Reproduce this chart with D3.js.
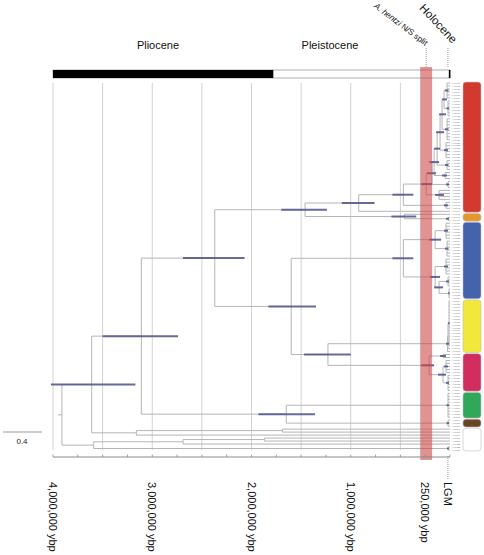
<!DOCTYPE html>
<html><head><meta charset="utf-8">
<script src="https://cdn.jsdelivr.net/npm/d3@7"></script>
<style>body{margin:0;background:#fff}svg{display:block;font-family:"Liberation Sans",Arial,sans-serif}</style>
</head><body><svg id="c" width="484" height="555"></svg>
<script>
// ---------------- data ----------------
const axisTicks = [4000000, 3000000, 2000000, 1000000, 250000];
const axisTickLabels = ["4,000,000 ybp", "3,000,000 ybp", "2,000,000 ybp", "1,000,000 ybp", "250,000 ybp"];
const gridAges = [4000000, 3500000, 3000000, 2500000, 2000000, 1500000, 1000000, 500000];
const minorTickAges = [4000000, 3750000, 3500000, 3250000, 3000000, 2750000, 2500000, 2250000, 2000000, 1750000, 1500000, 1250000, 1000000, 750000, 500000, 250000, 0];
const lgmAge = 21000;
const lgmLabel = "LGM";
const epochNames = ["Pliocene", "Pleistocene", "Holocene"];
const epochStart = [4000000, 1780000, 11700];
const epochEnd = [1780000, 11700, 0];
const splitBand = [300000, 180000];
const splitLabel = ["A. hentzi", " N/S split"];
const scaleBarLabel = "0.4";

// internal nodes of the dated tree (ages in Myr, 95% HPD upper/lower)
const nodeNames = ["root","A","B","A2","E","C","D","F","G","FB","H","Q","I","J","K","L","M","N1","O1","P1","Q1","R1","N","O","P","Pb","R","Y1","Y2","S","Sb"];
const nodeAges  = [3.91, 3.61, 3.59, 3.16, 1.69, 2.69, 1.87, 3.11, 2.37, 1.65, 1.46, 1.60, 0.92, 0.46, 0.47, 0.24, 0.18, 0.16, 0.13, 0.10, 0.08, 0.06, 0.47, 0.15, 0.15, 0.11, 1.23, 0.025, 0.02, 0.21, 0.07];
const nodeHpdHi = [null, 4.02, null, null, null, null, null, 3.50, 2.69, 1.93, 1.70, 1.83, 1.09, 0.59, 0.58, 0.29, 0.23, 0.21, 0.16, 0.14, 0.11, 0.08, 0.58, 0.21, 0.20, 0.16, 1.47, 0.04, null, 0.29, 0.12];
const nodeHpdLo = [null, 3.17, null, null, null, null, null, 2.74, 2.07, 1.36, 1.24, 1.35, 0.76, 0.34, 0.37, 0.18, 0.14, 0.11, 0.10, 0.06, 0.04, 0.03, 0.37, 0.09, 0.10, 0.07, 1.00, 0.01, null, 0.16, 0.04];
const nodeChildren = [
  ["A","B"], ["F","A2"], ["C","w122"], ["E","w118"], ["w116","w117"], ["D","w121"], ["w119","w120"],
  ["G","FB"], ["H","Q"], ["g104","br113"], ["I","J"], ["N","R"], ["K","r43"], ["o44","o45"],
  ["L","c40"], ["M","c36"], ["N1","c33"], ["O1","c30"], ["P1","c26"], ["Q1","c20"], ["R1","c12"], ["c00","c06"],
  ["O","P"], ["b47","b53"], ["b59","Pb"], ["b65","b69"], ["Y1","S"], ["Y2","y90"], ["y73","y89"], ["m91","Sb"], ["m93","m98"]
];
const rootStub = 0.04;

// shallow tip clusters (number of tips, crown age Myr, HPD)
const clusterNames = ["c00","c06","c12","c20","c26","c30","c33","c36","c40","r43","o44","o45","b47","b53","b59","b65","b69","y73","y89","y90","m91","m93","m98","g104","br113","w116","w117","w118","w119","w120","w121","w122"];
const clusterTips  = [6, 6, 8, 6, 4, 3, 3, 4, 3, 1, 1, 2, 6, 6, 6, 4, 4, 16, 1, 1, 2, 5, 6, 9, 3, 1, 1, 1, 1, 1, 1, 2];
const clusterCrown = [0.03, 0.02, 0.03, 0.04, 0.03, 0.05, 0.02, 0.11, 0.04, null, null, 0.02, 0.04, 0.03, 0.04, 0.02, 0.01, 0.01, null, null, 0.07, 0.04, 0.02, 0.02, 0.02, null, null, null, null, null, null, 0.02];
const clusterHpdHi = [0.05, 0.035, 0.05, 0.06, 0.05, 0.08, 0.04, 0.15, 0.06, null, null, 0.04, 0.06, 0.05, 0.06, 0.04, 0.02, 0.02, null, null, 0.10, 0.06, 0.04, 0.035, 0.035, null, null, null, null, null, null, 0.03];
const clusterHpdLo = [0.015, 0.01, 0.015, 0.02, 0.015, 0.03, 0.01, 0.06, 0.02, null, null, 0.01, 0.02, 0.015, 0.02, 0.01, 0.005, 0.005, null, null, 0.04, 0.02, 0.01, 0.01, 0.01, null, null, null, null, null, null, 0.01];

// coloured clade bars on the right
const groupTips = [44, 3, 26, 18, 13, 9, 3, 8];
const groupColors = ["#d2392f", "#e6952a", "#4562ad", "#f2e83a", "#d22d5f", "#2fa85a", "#6a4524", "#ffffff"];

// ---------------- drawing ----------------
const svg = d3.select("#c");
const x = d3.scaleLinear().domain([4, 0]).range([53, 450]);
const nTips = d3.sum(groupTips);
const y = d3.scaleLinear().domain([0, nTips - 1]).range([83, 450]);
const yr = v => x(v / 1e6);

// build tree
const nodeMap = new Map();
nodeNames.forEach((n, i) => nodeMap.set(n, {type: "node", name: n, age: nodeAges[i], hpd: nodeHpdHi[i] == null ? null : [nodeHpdHi[i], nodeHpdLo[i]], kidsNames: nodeChildren[i]}));
clusterNames.forEach((n, i) => nodeMap.set(n, {type: "cluster", name: n, tips: clusterTips[i], crown: clusterCrown[i], hpd: clusterHpdHi[i] == null ? null : [clusterHpdHi[i], clusterHpdLo[i]]}));
let tipCounter = 0;
function build(name) {
  const d = nodeMap.get(name);
  if (d.type === "node") return {name, age: d.age, hpd: d.hpd, kids: d.kidsNames.map(build)};
  if (d.tips === 1) return {name, age: 0, kids: [], tip: tipCounter++};
  return {name, age: d.crown, hpd: d.hpd, kids: d3.range(d.tips).map(() => ({age: 0, kids: [], tip: tipCounter++}))};
}
const rootObj = build("root");
const root = d3.hierarchy(rootObj, d => d.kids.length ? d.kids : null);
root.eachAfter(n => {
  n.px = x(n.data.age);
  if (!n.children) n.py = y(n.data.tip);
  else n.py = (n.children[0].py + n.children[n.children.length - 1].py) / 2;
});

// gridlines
svg.append("g").selectAll("line").data(gridAges).join("line")
  .attr("x1", d => yr(d)).attr("x2", d => yr(d)).attr("y1", 83).attr("y2", 450)
  .attr("stroke", "#d2d2d2").attr("stroke-width", 1);

// epoch bar
svg.append("rect").attr("x", yr(4000000)).attr("y", 70).attr("width", yr(0) - yr(4000000)).attr("height", 8)
  .attr("fill", "#fff").attr("stroke", "#9a9a9a").attr("stroke-width", 0.8);
svg.append("g").selectAll("rect").data([0, 2]).join("rect")
  .attr("x", i => yr(epochStart[i])).attr("y", 70)
  .attr("width", i => Math.max(1.5, yr(epochEnd[i]) - yr(epochStart[i]))).attr("height", 8)
  .attr("fill", "#000");

svg.append("text").attr("x", 158).attr("y", 49).attr("text-anchor", "middle").attr("font-size", 11).attr("fill", "#111").text(epochNames[0]);
svg.append("text").attr("x", 330).attr("y", 49).attr("text-anchor", "middle").attr("font-size", 11).attr("fill", "#111").text(epochNames[1]);
svg.append("text").attr("transform", `translate(452,44) rotate(47)`).attr("text-anchor", "end").attr("font-size", 11.5).attr("fill", "#111").text(epochNames[2]);
const ht = svg.append("text").attr("transform", `translate(425,46) rotate(37)`).attr("text-anchor", "end").attr("font-size", 8.2).attr("fill", "#111");
ht.append("tspan").attr("font-style", "italic").text(splitLabel[0]);
ht.append("tspan").text(splitLabel[1]);

// dotted leader lines
const bandMid = (splitBand[0] + splitBand[1]) / 2;
svg.append("line").attr("x1", yr(bandMid)).attr("x2", yr(bandMid)).attr("y1", 48).attr("y2", 67)
  .attr("stroke", "#999").attr("stroke-dasharray", "1,1");
svg.append("line").attr("x1", yr(lgmAge)).attr("x2", yr(lgmAge)).attr("y1", 48).attr("y2", 68)
  .attr("stroke", "#999").attr("stroke-dasharray", "1,1");
svg.append("line").attr("x1", yr(lgmAge)).attr("x2", yr(lgmAge)).attr("y1", 456).attr("y2", 479)
  .attr("stroke", "#999").attr("stroke-dasharray", "1,1");

// tree branches
const nodes = root.descendants();
const gTree = svg.append("g").attr("stroke", "#b4b4b4").attr("stroke-width", 1).attr("fill", "none");
gTree.selectAll("line.h").data(nodes.filter(n => n.parent)).join("line")
  .attr("x1", n => n.parent.px).attr("x2", n => n.px).attr("y1", n => n.py).attr("y2", n => n.py);
gTree.selectAll("line.v").data(nodes.filter(n => n.children)).join("line")
  .attr("x1", n => n.px).attr("x2", n => n.px)
  .attr("y1", n => n.children[0].py).attr("y2", n => n.children[n.children.length - 1].py);
gTree.append("line").attr("x1", x(root.data.age + rootStub)).attr("x2", root.px).attr("y1", root.py).attr("y2", root.py);

// HPD bars
svg.append("g").selectAll("line").data(nodes.filter(n => n.data.hpd)).join("line")
  .attr("x1", n => x(n.data.hpd[0])).attr("x2", n => x(n.data.hpd[1]))
  .attr("y1", n => n.py).attr("y2", n => n.py)
  .attr("stroke", "#545a8e").attr("stroke-width", 2).attr("stroke-opacity", 0.9);

// tip labels
const leaves = root.leaves();
svg.append("g").selectAll("text").data(leaves).join("text")
  .attr("x", 451.5).attr("y", n => n.py).attr("dy", "0.35em")
  .attr("font-size", 2.4).attr("fill", "#777")
  .text(n => "AH" + String(n.data.tip + 1).padStart(4, "0"));

// clade boxes
let start = 0;
const boxes = groupTips.map((k, i) => { const b = {i, first: start, last: start + k - 1}; start += k; return b; });
const step = y(1) - y(0);
svg.append("g").selectAll("rect").data(boxes).join("rect")
  .attr("x", 463).attr("width", 18)
  .attr("y", b => y(b.first) - step / 2 + 0.6).attr("height", b => y(b.last) - y(b.first) + step - 1.2)
  .attr("rx", 3).attr("fill", b => groupColors[b.i]).attr("stroke", "#bdbdbd").attr("stroke-width", 0.6);

// split band
svg.append("rect").attr("x", yr(splitBand[0])).attr("y", 67).attr("width", yr(splitBand[1]) - yr(splitBand[0])).attr("height", 393)
  .attr("fill", "#cc4444").attr("fill-opacity", 0.58);

// bottom axis
svg.append("line").attr("x1", yr(4000000)).attr("x2", yr(0)).attr("y1", 457).attr("y2", 457).attr("stroke", "#8a8a8a");
svg.append("g").selectAll("line").data(minorTickAges).join("line")
  .attr("x1", d => yr(d)).attr("x2", d => yr(d)).attr("y1", 454.5).attr("y2", 457).attr("stroke", "#8a8a8a").attr("stroke-width", 0.8);
svg.append("g").selectAll("text").data(axisTicks).join("text")
  .attr("transform", d => `translate(${yr(d)},482) rotate(90)`)
  .attr("dy", "0.35em").attr("font-size", 11).attr("fill", "#111")
  .text((d, i) => axisTickLabels[i]);
svg.append("text").attr("transform", `translate(${yr(lgmAge)},482) rotate(90)`)
  .attr("dy", "0.35em").attr("font-size", 11).attr("fill", "#111").text(lgmLabel);

// scale bar
svg.append("line").attr("x1", 3).attr("x2", 42).attr("y1", 432).attr("y2", 432).attr("stroke", "#999");
svg.append("text").attr("x", 22).attr("y", 444).attr("text-anchor", "middle").attr("font-size", 8).attr("fill", "#222").text(scaleBarLabel);
</script></body></html>
